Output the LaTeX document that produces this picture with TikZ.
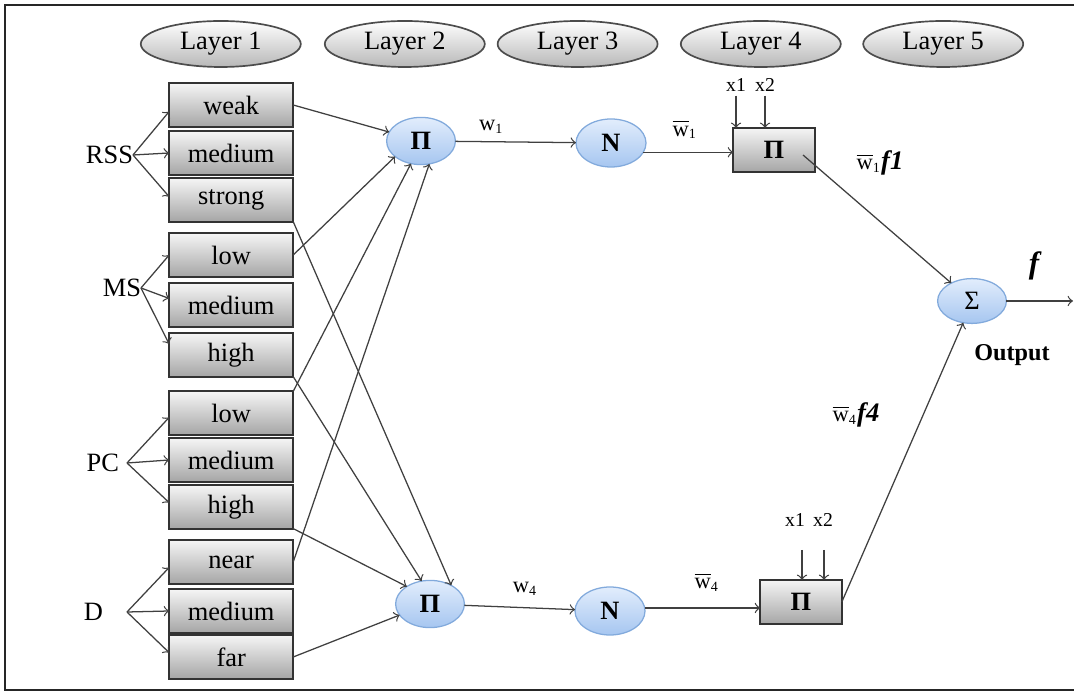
\documentclass[tikz,border=0pt]{standalone}
\usepackage{fontspec}
\setmainfont{Liberation Serif}
\usetikzlibrary{shapes.geometric,calc}
\definecolor{ruletop}{RGB}{226,237,252}
\definecolor{rulebot}{RGB}{166,198,240}
\definecolor{ruleedge}{RGB}{130,170,220}
\newcommand{\wbar}[1]{$\overline{\mbox{w}}_{\mbox{\tiny #1}}$}
\newcommand{\wsub}[1]{$\mbox{w}_{\mbox{\tiny #1}}$}

\begin{document}
\begin{tikzpicture}[inner sep=0pt,outer sep=0pt,line width=0.45pt,font=\fontsize{9.4}{11}\selectfont,
layerbox/.style={draw=black!70,ellipse,minimum width=2cm,minimum height=0.575cm,top color=white,bottom color=black!28,line width=0.6pt},
mfbox/.style={draw=black!80,rectangle,minimum width=1.55cm,minimum height=0.54cm,top color=black!4,bottom color=black!35,line width=0.7pt},
rulenode/.style={draw=ruleedge,ellipse,minimum width=0.86cm,minimum height=0.59cm,top color=ruletop,bottom color=rulebot,font=\fontsize{9.4}{11}\selectfont\bfseries},
prodbox/.style={draw=black!80,rectangle,minimum width=1.02cm,minimum height=0.55cm,top color=black!4,bottom color=black!35,line width=0.7pt,font=\fontsize{9.4}{11}\selectfont\bfseries},
wire/.style={->,draw=black!75},
xin/.style={inner sep=1.5pt,font=\fontsize{7}{8}\selectfont},
wlab/.style={font=\fontsize{8}{9}\selectfont}]

\useasboundingbox (0,0) rectangle (13.425,-8.7);
\draw[line width=1pt,black!85] (13.425,-0.0625) -- (0.0625,-0.0625) -- (0.0625,-8.625) -- (13.425,-8.625);

\draw (2.76,-0.55) node[layerbox] (L1) {Layer 1};
\draw (5.06,-0.55) node[layerbox] (L2) {Layer 2};
\draw (7.22,-0.55) node[layerbox] (L3) {Layer 3};
\draw (9.51,-0.55) node[layerbox] (L4) {Layer 4};
\draw (11.79,-0.55) node[layerbox] (L5) {Layer 5};

\draw (2.89,-1.3125) node[mfbox] (weak) {weak};
\draw (2.89,-1.9125) node[mfbox] (medRSS) {medium};
\draw (2.89,-2.5) node[mfbox] (strong) {strong};
\draw (2.89,-3.1875) node[mfbox] (lowMS) {low};
\draw (2.89,-3.8125) node[mfbox] (medMS) {medium};
\draw (2.89,-4.4375) node[mfbox] (highMS) {high};
\draw (2.89,-5.1625) node[mfbox] (lowPC) {low};
\draw (2.89,-5.75) node[mfbox] (medPC) {medium};
\draw (2.89,-6.3375) node[mfbox] (highPC) {high};
\draw (2.89,-7.025) node[mfbox] (near) {near};
\draw (2.89,-7.6375) node[mfbox] (medD) {medium};
\draw (2.89,-8.2125) node[mfbox] (far) {far};

\draw (1.6625,-1.9375) node[anchor=east] (RSS) {RSS};
\draw (1.7625,-3.6) node[anchor=east] (MS) {MS};
\draw (1.5875,-5.7875) node[anchor=east,inner xsep=0.1cm] (PC) {PC};
\draw (1.5875,-7.65) node[anchor=east,inner xsep=0.3cm] (D) {D};

\draw[wire] (RSS.east) -- (weak.186);
\draw[wire] (RSS.east) -- (medRSS.west);
\draw[wire] (RSS.east) -- (strong.177);
\draw[wire] (MS.east) -- (lowMS.west);
\draw[wire] (MS.east) -- (medMS.174);
\draw[wire] (MS.east) -- (highMS.170);
\draw[wire] (PC.east) -- (lowPC.184);
\draw[wire] (PC.east) -- (medPC.west);
\draw[wire] (PC.east) -- (highPC.176);
\draw[wire] (D.east) -- (near.185);
\draw[wire] (D.east) -- (medD.west);
\draw[wire] (D.east) -- (far.176);

\draw (5.2625,-1.7625) node[rulenode] (P1) {Π};
\draw (5.375,-7.55) node[rulenode] (P2) {Π};
\draw (7.6375,-1.7875) node[rulenode,minimum width=0.875cm,minimum height=0.6cm] (N1) {N};
\draw (7.625,-7.6375) node[rulenode,minimum width=0.875cm,minimum height=0.6cm] (N2) {N};
\draw (9.675,-1.875) node[prodbox] (B1) {Π};
\draw (10.0125,-7.525) node[prodbox] (B2) {Π};
\draw (12.15,-3.7625) node[rulenode,minimum height=0.56cm,font=\fontsize{9.4}{11}\selectfont] (S) {Σ};

\draw[wire] (weak.east) -- (P1);
\draw[wire] (lowMS.east) -- (P1.-149);
\draw[wire] (lowPC.north east) -- (P1.-114);
\draw[wire] (near.east) -- (P1.-70);
\draw[wire] (strong.south east) -- (P2.41);
\draw[wire] (highMS.south east) -- (P2.110);
\draw[wire] (highPC.south east) -- (P2.143);
\draw[wire] (far.east) -- (P2.-160);

\draw[wire] (P1) -- (N1) node[wlab,pos=0.3,above=0.1cm] {\wsub{1}};
\draw[wire] (P2) -- (N2) node[wlab,pos=0.55,above=0.15cm] {\wsub{4}};
\draw[wire] (N1.-16) -- (N1.-16 -| B1.west);
\draw[wire] (N2.5) -- (N2.5 -| B2.west);
\draw (8.5625,-1.62) node[wlab] (wb1) {\wbar{1}};
\draw (8.8375,-7.275) node[wlab] (wb4) {\wbar{4}};

\draw (9.2,-1.0625) node[xin] (xa) {x1};
\draw (9.5625,-1.0625) node[xin] (xb) {x2};
\draw[wire] (xa.south) -- (xa.south |- B1.north);
\draw[wire] (xb.south) -- (xb.south |- B1.north);
\draw (9.9375,-6.5) node[xin] (ya) {x1};
\draw (10.2875,-6.5) node[xin] (yb) {x2};
\coordinate (ya0) at (10.025,-6.875);
\coordinate (yb0) at (10.3,-6.875);
\draw[wire] (ya0) -- (ya0 |- B2.north);
\draw[wire] (yb0) -- (yb0 |- B2.north);

\draw[wire] ($(B1.center)+(0.3625,-0.0625)$) -- (S);
\draw[wire] (B2.east) -- (S.-112);
\draw (11.0,-2.04) node[wlab] (w1f) {\wbar{1}\textbf{\textit{\fontsize{9.5}{10}\selectfont f1}}};
\draw (10.7,-5.19) node[wlab] (w4f) {\wbar{4}\textbf{\textit{\fontsize{9.5}{10}\selectfont f4}}};

\coordinate (out) at (13.4125,-3.7625);
\draw[wire] (S.east) -- (out);
\draw (12.94,-3.33) node (f) {\textbf{\textit{\fontsize{11}{12}\selectfont f}}};
\draw (12.65,-4.44) node (outlab) {\fontsize{8.6}{10}\selectfont\textbf{Output}};
\end{tikzpicture}
\end{document}
